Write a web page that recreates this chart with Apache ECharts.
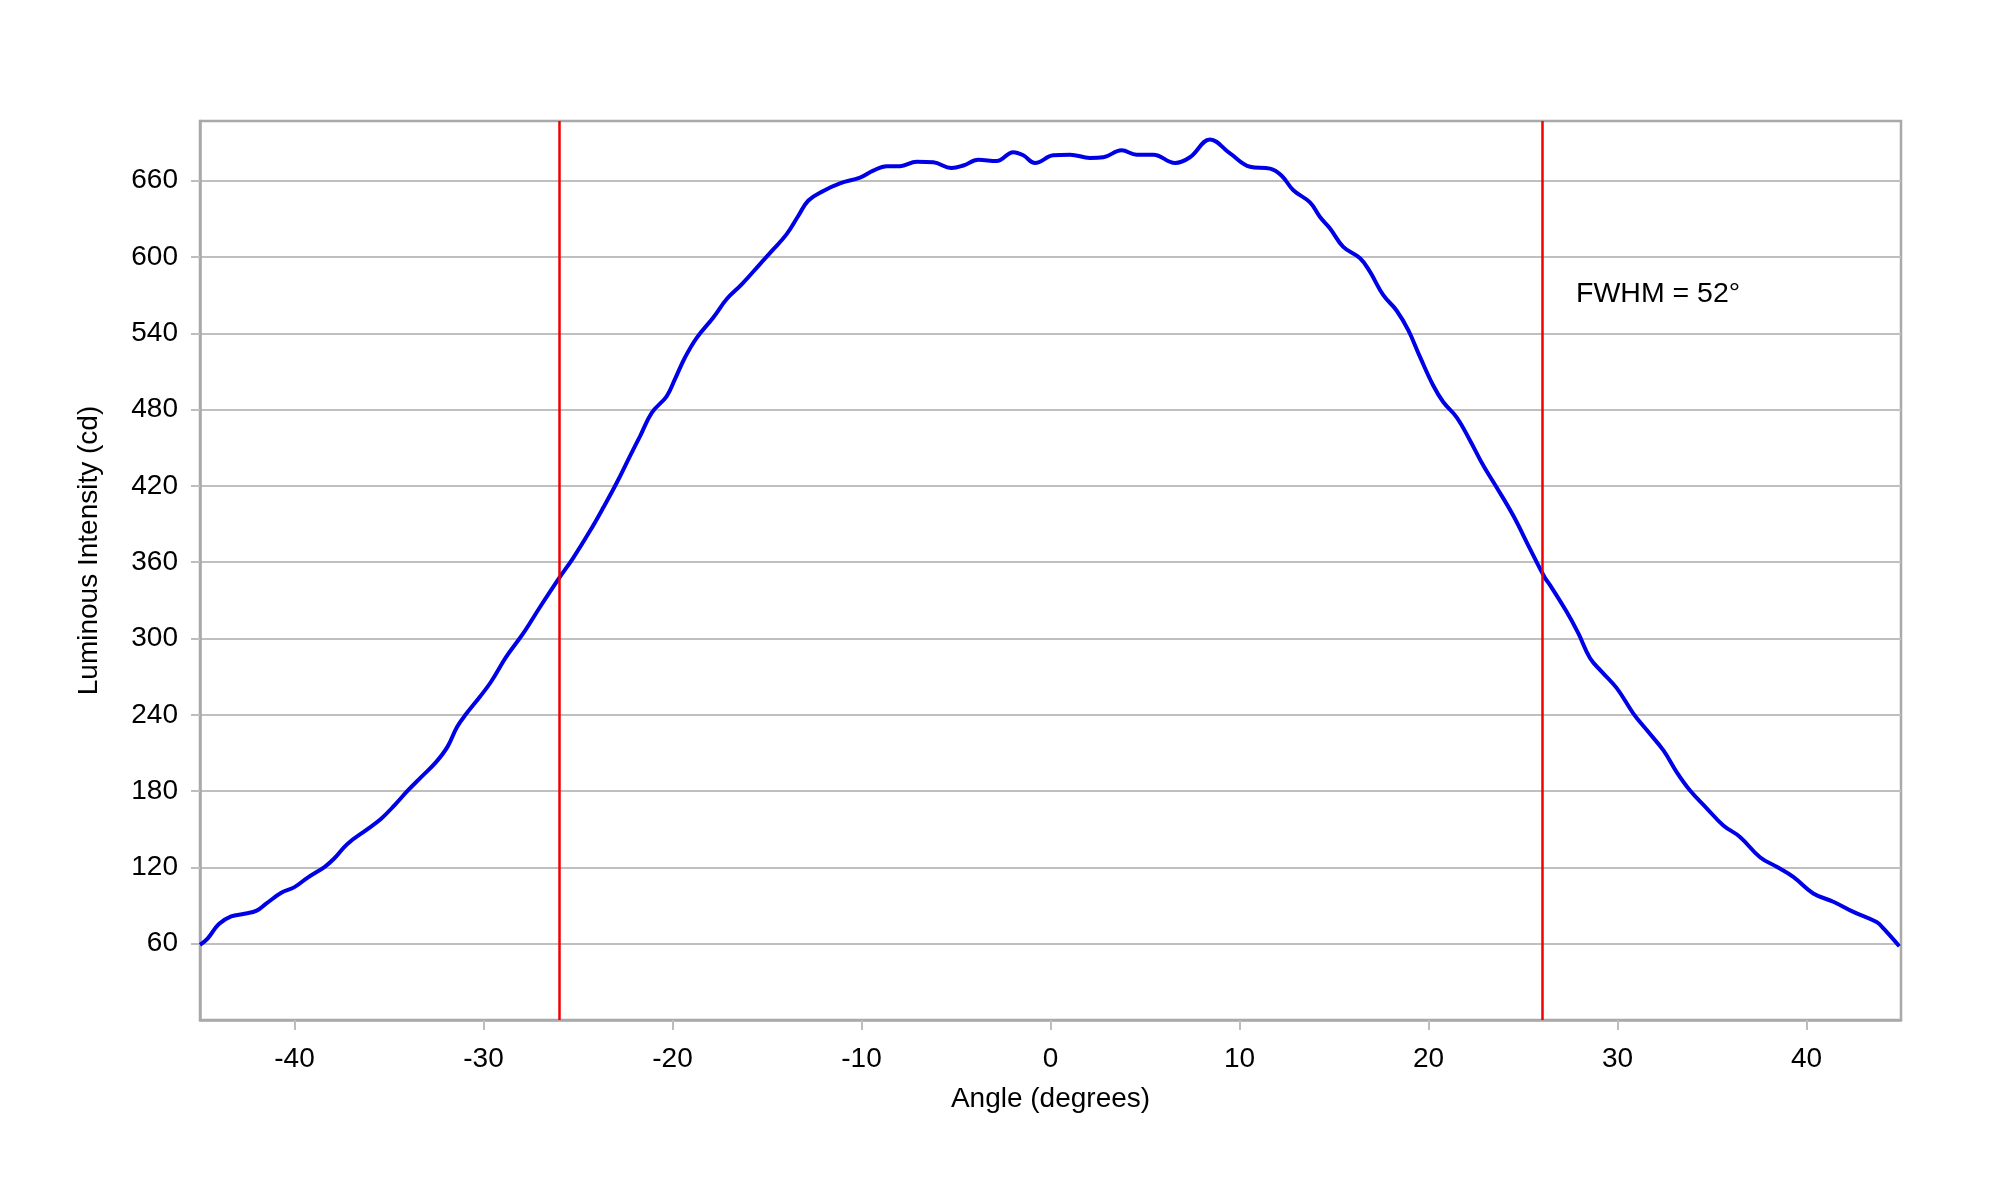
<!DOCTYPE html>
<html>
<head>
<meta charset="utf-8">
<script src="https://cdn.jsdelivr.net/npm/echarts@6/dist/echarts.min.js"></script>
<style>
html,body{margin:0;padding:0;background:#fff;}
#chart{width:2000px;height:1200px;}
</style>
</head>
<body>
<div id="chart"></div>
<script>
// Angle (degrees)
const angles = [
  -45.0,-44.6,-44.0,-43.35,-42.65,-42.0,-41.5,-40.7,-40.0,-39.3,-38.4,-37.9,-37.2,-36.1,-35.4,-34.7,
  -34.0,-33.3,-32.5,-31.9,-31.4,-30.9,-30.2,-29.6,-28.8,-27.9,-27.0,-26.0,-25.25,-24.37,-23.66,-22.95,
  -22.25,-21.72,-21.1,-20.31,-19.87,-19.34,-18.72,-17.84,-17.13,-16.34,-15.37,-14.67,-13.96,-13.34,
  -12.81,-12.02,-11.14,-10.08,-9.38,-8.67,-7.96,-7.08,-6.2,-5.23,-4.61,-3.82,-2.85,-1.97,-1.44,-0.82,
  0.15,1.03,2.09,2.8,3.76,4.56,5.44,6.59,7.38,8.44,9.5,10.56,11.62,12.23,12.85,13.73,14.26,14.79,
  15.49,16.38,16.9,17.61,18.31,18.93,19.55,20.25,20.78,21.49,22.19,22.9,23.6,24.49,25.37,26.15,
  26.43,27.31,27.93,28.55,29.16,29.96,30.84,31.55,32.43,33.13,33.84,34.72,35.6,36.48,37.54,38.42,
  39.3,40.36,41.42,42.48,43.71,44.07,44.91
];
// Luminous intensity (cd)
const intensity = [
  59,64,75.5,81.5,83.5,86,91.5,100,104.5,112,120.5,127,138.5,150.5,158.5,169,
  180.5,191,203,215,230.5,241,254,266,285.5,304,325,347.5,363.5,384.5,403,422.5,
  443.5,459,477.5,490.5,504,521,536.5,552.5,567,578.5,594.5,606,618,632.5,
  644.5,652,658,662.5,668,671.5,671.5,675,674.5,670,672,676.5,675.5,682.5,680,674,
  680,680.5,678,678.5,684,680.5,680.5,674,678.5,692.5,681.5,671,669.5,664,652.5,643,631.5,622.5,
  608,599,588.5,570,558,542.5,521.5,499,486,474,456,436,419,396.5,370.5,348,
  342,321,304,284.5,274,261,241,228,212,195,180.5,166.5,153,144,128,120.5,
  112.5,99.5,93,85,77,72,58
];
const xTicks = [-40,-30,-20,-10,0,10,20,30,40];
const yTicks = [60,120,180,240,300,360,420,480,540,600,660];
const fwhmLines = [-26, 26];
const fwhmText = 'FWHM = 52°';

const chart = echarts.init(document.getElementById('chart'));
const font = '"Liberation Sans", Arial, sans-serif';
const seriesData = angles.map((a, i) => [a, intensity[i]]);

chart.setOption({
  backgroundColor: '#ffffff',
  animation: false,
  grid: {
    left: 200, right: 99, top: 121, bottom: 180,
    show: true, borderColor: '#a9a9a9', borderWidth: 2.5, backgroundColor: 'transparent'
  },
  xAxis: {
    type: 'value',
    min: -45, max: 45,
    name: 'Angle (degrees)',
    nameLocation: 'middle',
    nameGap: 65,
    nameTextStyle: { fontFamily: font, fontSize: 28, color: '#000' },
    axisLine: { show: true, onZero: false, lineStyle: { color: '#a9a9a9', width: 2.5 } },
    axisTick: { show: true, length: 10, customValues: xTicks, lineStyle: { color: '#bdbdbd', width: 2 } },
    axisLabel: { customValues: xTicks, margin: 25, fontFamily: font, fontSize: 28, color: '#000' },
    splitLine: { show: false }
  },
  yAxis: {
    type: 'value',
    min: 0, max: 707, interval: 60,
    name: 'Luminous Intensity (cd)',
    nameLocation: 'middle',
    nameGap: 97,
    nameTextStyle: { fontFamily: font, fontSize: 28, color: '#000', padding: [0, 0, 0, 40] },
    axisLine: { show: true, onZero: false, lineStyle: { color: '#a9a9a9', width: 2.5 } },
    axisTick: { show: true, length: 9, customValues: yTicks, lineStyle: { color: '#bdbdbd', width: 2 } },
    axisLabel: { customValues: yTicks, margin: 22, fontFamily: font, fontSize: 28, color: '#000' },
    splitLine: { show: true, lineStyle: { color: '#bfbfbf', width: 1.8 } }
  },
  series: [{
    type: 'line',
    data: seriesData,
    smooth: 0.4,
    showSymbol: false,
    symbol: 'none',
    lineStyle: { color: '#0000e6', width: 4 },
    markLine: {
      silent: true,
      symbol: ['none', 'none'],
      label: { show: false },
      lineStyle: { color: '#f00000', width: 2.5, type: 'solid' },
      data: fwhmLines.map(x => ({ xAxis: x }))
    },
    z: 3
  }],
  graphic: [{
    type: 'text',
    left: 1576, top: 280,
    style: { text: fwhmText, fontFamily: font, fontSize: 28.5, fill: '#000' }
  }]
});
</script>
</body>
</html>
